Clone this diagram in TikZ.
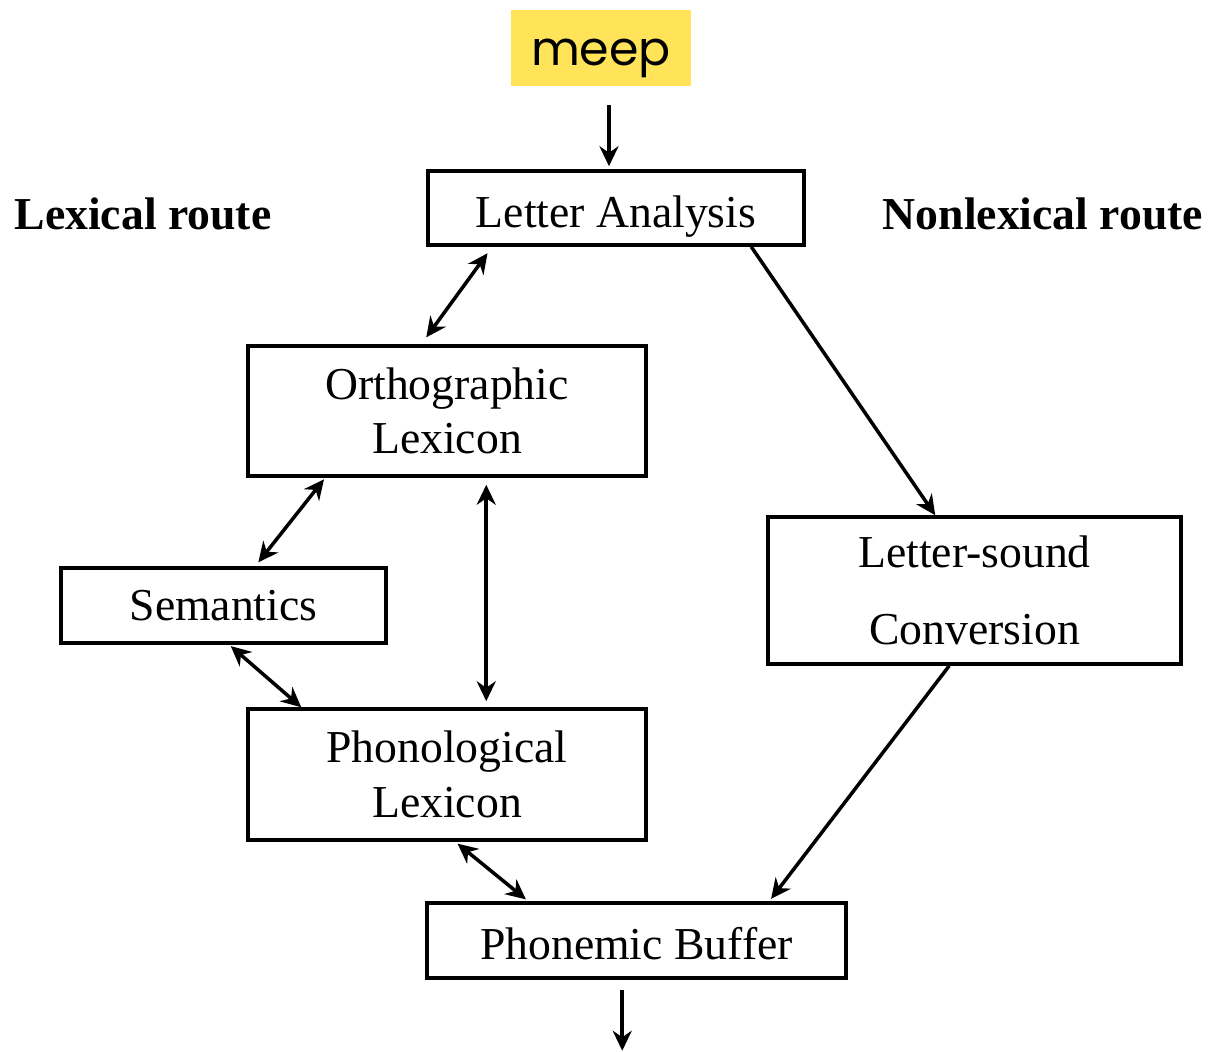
\documentclass[tikz,border=0pt]{standalone}
\usepackage{fontspec}
\setmainfont{Liberation Serif}
\newfontfamily\meepfont{Poppins}
\usepackage{xcolor}
\definecolor{meepyellow}{HTML}{FFE45A}
\usetikzlibrary{arrows.meta}

\begin{document}
\begin{tikzpicture}[
box/.style={draw, line width=2pt, inner sep=0pt, font=\fontsize{26}{31}\selectfont, align=center},
arr/.style={line width=2pt, -{Stealth[length=0.4cm, width=0.38cm]}},
dbl/.style={line width=2pt, {Stealth[length=0.4cm, width=0.38cm]}-{Stealth[length=0.4cm, width=0.38cm]}}
]
\useasboundingbox (0,0) rectangle (24.18,-21.04);

\node[fill=meepyellow, minimum width=3.6cm, minimum height=1.52cm, font=\meepfont\fontsize{27}{30}\selectfont] (meep) at (12.02,-0.96) {\raisebox{-0.2cm}[\height][\depth]{meep}};

\node[box, minimum width=7.52cm, minimum height=1.48cm] (la) at (12.32,-4.16) {\raisebox{-0.18cm}[\height][\depth]{Letter Analysis}};
\node[box, minimum width=7.96cm, minimum height=2.6cm] (ortho) at (8.94,-8.22) {Orthographic\\Lexicon};
\node[box, minimum width=6.5cm, minimum height=1.5cm] (sem) at (4.47,-12.11) {Semantics};
\node[box, minimum width=8.26cm, minimum height=2.94cm, font=\fontsize{26}{44}\selectfont] (lsc) at (19.49,-11.81) {Letter-sound\\Conversion};
\node[box, minimum width=7.96cm, minimum height=2.62cm] (phon) at (8.94,-15.49) {Phonological\\Lexicon};
\node[box, minimum width=8.38cm, minimum height=1.5cm] (buf) at (12.73,-18.81) {\raisebox{-0.06cm}[\height][\depth]{Phonemic Buffer}};

\node[font=\fontsize{26}{31}\selectfont\bfseries] (lex) at (2.86,-4.28) {Lexical route};
\node[font=\fontsize{26}{31}\selectfont\bfseries] (nonlex) at (20.86,-4.28) {Nonlexical route};

\coordinate (out) at ([xshift=3.94cm, yshift=-1.42cm]buf.south west);

\draw[arr, shorten <=0.38cm, shorten >=0.06cm] ([xshift=0.16cm]meep.south) -- ([xshift=-0.14cm]la.north);
\draw[dbl, shorten <=0.16cm, shorten >=0.17cm] ([xshift=1.32cm]la.south west) -- ([xshift=3.5cm]ortho.north west);
\draw[arr] ([xshift=6.5cm]la.south west) -- ([xshift=3.38cm]lsc.north west);
\draw[dbl, shorten <=0.04cm, shorten >=0.1cm] ([xshift=1.58cm]ortho.south west) -- ([xshift=3.92cm]sem.north west);
\draw[dbl, shorten <=0.14cm, shorten >=0.12cm] ([xshift=4.8cm]ortho.south west) -- ([xshift=4.8cm]phon.north west);
\draw[dbl, shorten <=0.04cm] ([xshift=3.4cm]sem.south west) -- ([xshift=1.1cm]phon.north west);
\draw[dbl, shorten <=0.06cm, shorten >=0.06cm] ([xshift=4.18cm]phon.south west) -- ([xshift=2.06cm]buf.north west);
\draw[arr, shorten >=0.06cm] ([xshift=3.66cm]lsc.south west) -- ([xshift=6.88cm]buf.north west);
\draw[arr, shorten <=0.2cm] ([xshift=3.94cm]buf.south west) -- (out);
\end{tikzpicture}
\end{document}
